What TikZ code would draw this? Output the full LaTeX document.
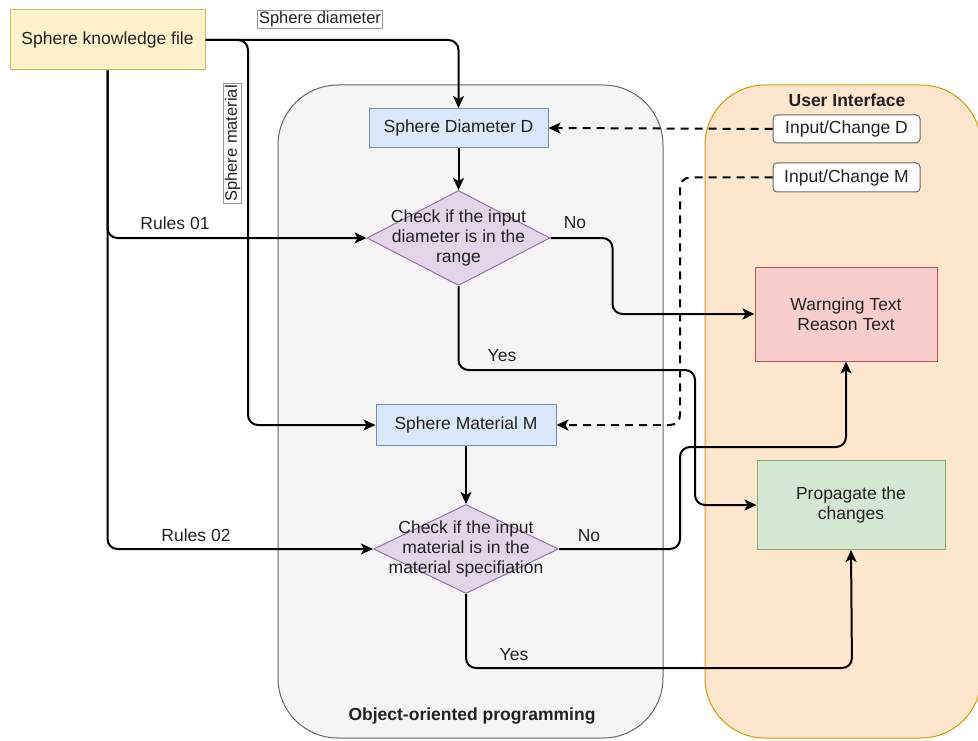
\documentclass[tikz,border=0pt]{standalone}
\usepackage{fontspec}
\setmainfont{Liberation Sans}
\usetikzlibrary{shapes.geometric,arrows.meta}

\definecolor{txt}{HTML}{222222}
\definecolor{kffill}{HTML}{FFF2CC}
\definecolor{kfbd}{HTML}{D6B656}
\definecolor{oopfill}{HTML}{F5F5F5}
\definecolor{oopbd}{HTML}{666666}
\definecolor{uifill}{HTML}{FFE6CC}
\definecolor{uibd}{HTML}{D79B00}
\definecolor{bluefill}{HTML}{DAE8FC}
\definecolor{bluebd}{HTML}{6C8EBF}
\definecolor{diafill}{HTML}{E1D5E7}
\definecolor{diabd}{HTML}{9673A6}
\definecolor{redfill}{HTML}{F8CECC}
\definecolor{redbd}{HTML}{B85450}
\definecolor{greenfill}{HTML}{D5E8D4}
\definecolor{greenbd}{HTML}{82B366}
\definecolor{tagbd}{HTML}{999999}

\tikzset{
  basefont/.style={font=\fontsize{17.5}{20}\selectfont},
  titlefont/.style={font=\fontsize{17.5}{20}\selectfont\bfseries},
  labelfont/.style={font=\fontsize{16.5}{19}\selectfont},
  container/.style={rectangle, rounded corners=60pt, line width=1pt, inner sep=0pt},
  procbox/.style={rectangle, line width=1pt, inner sep=0pt, align=center, basefont},
  decision/.style={diamond, draw=diabd, fill=diafill, line width=1pt, inner sep=0pt},
  uibox/.style={rectangle, rounded corners=4pt, draw=oopbd, fill=white, line width=1pt,
                minimum width=147pt, inner sep=0pt, basefont},
  tag/.style={rectangle, draw=tagbd, fill=white, line width=0.6pt, inner sep=1.5pt, labelfont},
  conn/.style={draw=black, line width=2pt, rounded corners=10pt,
               -{Stealth[length=12pt, width=11pt, inset=3pt]}},
  dashconn/.style={conn, dash pattern=on 8pt off 6pt},
  plainlabel/.style={basefont, inner sep=0pt},
}

\begin{document}
\begin{tikzpicture}[x=1pt, y=-1pt, every node/.append style={text=txt}]
\clip (0,0) rectangle (978,741);
\fill[white] (0,0) rectangle (978,741);

% containers
\node[container, draw=oopbd, fill=oopfill, minimum width=385pt, minimum height=653pt] (oop) at (470.5,411.5) {};
\node[container, draw=uibd, fill=uifill, minimum width=276pt, minimum height=653pt] (ui) at (843,411.5) {};
\node[titlefont, inner sep=0pt] (ooptitle) at (472,716) {Object-oriented programming};
\node[titlefont, inner sep=0pt] (uititle) at (847,100) {User Interface};

% knowledge source
\node[procbox, draw=kfbd, fill=kffill, minimum width=195pt, minimum height=60pt] (kf) at (107.5,40) {Sphere knowledge file};

% object-oriented side
\node[procbox, draw=bluebd, fill=bluefill, minimum width=179pt, minimum height=39pt] (dd) at (458.5,128) {Sphere Diameter D};
\node[decision, minimum width=183pt, minimum height=95pt] (c1) at (458.5,238) {};
\node[basefont, align=center, inner sep=0pt] (c1text) at (c1) {Check if the input\\diameter is in the\\range};
\node[procbox, draw=bluebd, fill=bluefill, minimum width=180pt, minimum height=41pt] (mm) at (466,425) {Sphere Material M};
\node[decision, minimum width=185pt, minimum height=89pt] (c2) at (466,549) {};
\node[basefont, align=center, inner sep=0pt] (c2text) at (c2) {Check if the input\\material is in the\\material specifiation};

% user interface side
\node[uibox, minimum height=28pt] (icd) at (846.5,129) {Input/Change D};
\node[uibox, minimum height=29pt] (icm) at (846.5,177.5) {Input/Change M};
\node[procbox, draw=redbd, fill=redfill, minimum width=182pt, minimum height=94pt] (warn) at (846,314) {Warnging Text\\Reason Text};
\node[procbox, draw=greenbd, fill=greenfill, minimum width=188pt, minimum height=89pt] (prop) at (851,505) {Propagate the\\changes};

% bend points
\coordinate (smx) at (248,425);
\coordinate (y1) at (695,370);
\coordinate (dmx) at (680,300);
\coordinate (n2) at (680,447);
\coordinate (y2) at (852,668);

% connectors from the knowledge file
\draw[conn] (kf.east) -| (dd.north);
\draw[conn] (kf.east) -| (smx) -- (mm.west);
\draw[conn] (kf.south) |- (c1.west);
\draw[conn] (kf.south) |- (c2.west);

% flow inside the program
\draw[conn] (dd.south) -- (c1.north);
\draw[conn] (mm.south) -- (c2.north);
\draw[conn] (c1.east) -- ++(62,0) |- (warn.west);
\draw[conn] (c1.south) |- (y1) |- (prop.west);
\draw[conn] (c2.east) -| (n2) -| (warn.south);
\draw[conn] (c2.south) |- (y2) -- (prop.south);

% user input
\draw[dashconn] (icd.west) -- (dd.east);
\draw[dashconn] (icm.west) -| (dmx) |- (mm.east);

% labels
\node[tag] (tdia) at (320,19) {Sphere diameter};
\node[tag, rotate=90] (tmat) at (232.5,143.5) {Sphere material};
\node[plainlabel] (r1) at (175,223) {Rules 01};
\node[plainlabel] (r2) at (196,535) {Rules 02};
\node[plainlabel] (no1) at (575,223) {No};
\node[plainlabel] (no2) at (589,536) {No};
\node[plainlabel] (yes1) at (502,356) {Yes};
\node[plainlabel] (yes2) at (514,655) {Yes};
\end{tikzpicture}
\end{document}
